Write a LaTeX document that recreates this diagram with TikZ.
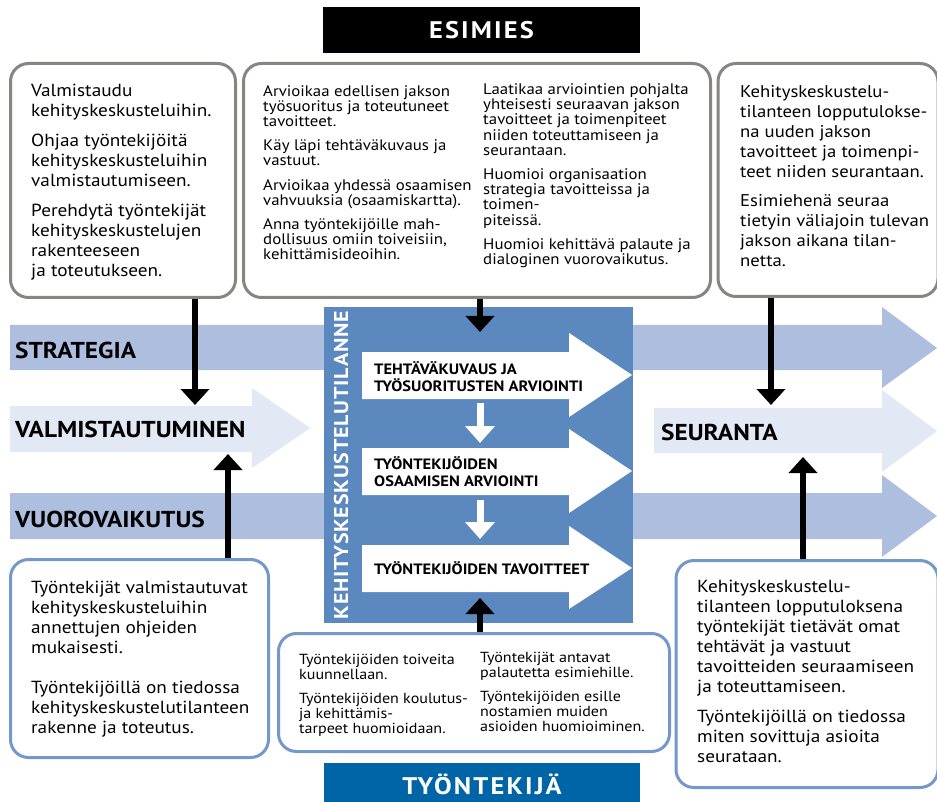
\documentclass[tikz,border=0pt]{standalone}
\usepackage{fontspec}
\setmainfont[FakeStretch=1.1]{PT Sans}
\newfontfamily\headfont[FakeStretch=1.1, LetterSpace=9]{PT Sans}
\newfontfamily\vertfont[FakeStretch=1.1, LetterSpace=4]{PT Sans}
\usetikzlibrary{arrows.meta}

\definecolor{boxgray}{HTML}{878580}
\definecolor{banddark}{HTML}{ADBEDF}
\definecolor{bandlight}{HTML}{E2E8F4}
\definecolor{centerblue}{HTML}{5B88BF}
\definecolor{boxblue}{HTML}{7498CB}
\definecolor{headblue}{HTML}{0065A7}

\tikzset{
  graybox/.style={draw=boxgray, line width=3pt, rounded corners=18pt, fill=white},
  bluebox/.style={draw=boxblue, line width=3pt, rounded corners=18pt, fill=white},
  boxtext/.style={anchor=north west, inner sep=0pt, align=left, font=\fontsize{17.5}{20}\selectfont},
  midtext/.style={anchor=north west, inner sep=0pt, align=left, font=\fontsize{15.3}{15.2}\selectfont},
  lowtext/.style={anchor=north west, inner sep=0pt, align=left, font=\fontsize{14.6}{15.3}\selectfont},
  bandlabel/.style={anchor=base west, inner sep=0pt, font=\bfseries\fontsize{23}{24}\selectfont},
  steplabel/.style={anchor=north west, inner sep=0pt, align=left, font=\bfseries\fontsize{15}{17}\selectfont},
  headbox/.style={text=white, inner sep=0pt, font=\headfont\bfseries\fontsize{24}{24}\selectfont},
  blkarrow/.style={line width=6pt, -{Triangle[width=28pt,length=16pt]}},
  whtarrow/.style={draw=white, line width=7pt, -{Triangle[width=29pt,length=17pt]}},
}

\begin{document}
\begin{tikzpicture}[x=1pt, y=-1pt]
    \useasboundingbox (0,0) rectangle (937,802);

    % Bands
    \fill[banddark] (10,325) -- (882,325) -- (882,307) -- (937,348) -- (882,388) -- (882,370) -- (10,370) -- cycle;
    \fill[banddark] (10,493) -- (882,493) -- (882,475) -- (937,516) -- (882,557) -- (882,539) -- (10,539) -- cycle;
    \fill[bandlight] (10,406) -- (252,406) -- (252,388) -- (310,428) -- (252,468) -- (252,452) -- (10,452) -- cycle;
    \fill[bandlight] (654,408) -- (882,408) -- (882,390) -- (937,431) -- (882,472) -- (882,453) -- (654,453) -- cycle;
    \node[bandlabel] (strategia) at (15,358) {STRATEGIA};
    \node[bandlabel] (valm) at (15,437) {VALMISTAUTUMINEN};
    \node[bandlabel] (vuoro) at (15,527) {VUOROVAIKUTUS};
    \node[bandlabel] (seuranta) at (661,440) {SEURANTA};

    % Central box
    \node[fill=centerblue, minimum width=309pt, minimum height=316pt, inner sep=0pt] (center) at (478.5,465) {};
    \node[rotate=90, text=white, inner sep=0pt, font=\vertfont\bfseries\fontsize{20}{20}\selectfont] (vtitle) at (341,465) {KEHITYSKESKUSTELUTILANNE};
    \fill[white] (362,352) -- (569,352) -- (569,333) -- (632,375) -- (569,417) -- (569,399) -- (362,399) -- cycle;
    \fill[white] (362,448) -- (569,448) -- (569,429) -- (632,471) -- (569,513) -- (569,495) -- (362,495) -- cycle;
    \fill[white] (362,545) -- (569,545) -- (569,526) -- (632,568) -- (569,609) -- (569,592) -- (362,592) -- cycle;
    \node[steplabel] (step1) at (374,361) {TEHTÄVÄKUVAUS JA\\TYÖSUORITUSTEN ARVIOINTI};
    \node[steplabel] (step2) at (374,456) {TYÖNTEKIJÖIDEN\\OSAAMISEN ARVIOINTI};
    \node[steplabel] (step3) at (374,561) {TYÖNTEKIJÖIDEN TAVOITTEET};
    \coordinate (s1b) at (480,403);
    \coordinate (s2t) at (480,443);
    \coordinate (s2b) at (480,500);
    \coordinate (s3t) at (480,539);
    \draw[whtarrow] (s1b) -- (s2t);
    \draw[whtarrow] (s2b) -- (s3t);

    % Headings
    \node[fill=black, minimum width=317pt, minimum height=46pt, headbox] (esimies) at (481.5,30) {ESIMIES};
    \node[fill=headblue, minimum width=316pt, minimum height=42pt, headbox] (tyontekija) at (482,784) {TYÖNTEKIJÄ};

    % Top boxes
    \node[graybox, minimum width=225pt, minimum height=234pt] (lbox) at (123,180.5) {};
    \node[graybox, minimum width=467pt, minimum height=234pt] (mbox) at (477,180.5) {};
    \node[graybox, minimum width=220pt, minimum height=233pt] (rbox) at (828,180) {};
    \node[boxtext] (ltext) at (31,84) {Valmistaudu\\kehityskeskusteluihin.\\[10pt]Ohjaa työntekijöitä\\kehityskeskusteluihin\\valmistautumiseen.\\[10pt]Perehdytä työntekijät\\kehityskeskustelujen\\rakenteeseen\\ja toteutukseen.};
    \node[midtext] (mtextl) at (263,85) {Arvioikaa edellisen jakson\\työsuoritus ja toteutuneet\\tavoitteet.\\[9pt]Käy läpi tehtäväkuvaus ja\\vastuut.\\[9pt]Arvioikaa yhdessä osaamisen\\vahvuuksia (osaamiskartta).\\[9pt]Anna työntekijöille mah-\\dollisuus omiin toiveisiin,\\kehittämisideoihin.};
    \node[midtext] (mtextr) at (483,83.5) {Laatikaa arviointien pohjalta\\yhteisesti seuraavan jakson\\tavoitteet ja toimenpiteet\\niiden toteuttamiseen ja\\seurantaan.\\[9pt]Huomioi organisaation\\strategia tavoitteissa ja\\toimen-\\piteissä.\\[9pt]Huomioi kehittävä palaute ja\\dialoginen vuorovaikutus.};
    \node[boxtext, font=\fontsize{17}{20}\selectfont] (rtext) at (740,85.5) {Kehityskeskustelu-\\tilanteen lopputulokse-\\na uuden jakson\\tavoitteet ja toimenpi-\\teet niiden seurantaan.\\[9pt]Esimiehenä seuraa\\tietyin väliajoin tulevan\\jakson aikana tilan-\\netta.};

    % Bottom boxes
    \node[bluebox, minimum width=258pt, minimum height=198pt] (lbbox) at (139.5,658.5) {};
    \node[bluebox, minimum width=391pt, minimum height=118pt] (mbbox) at (474,692.5) {};
    \node[bluebox, minimum width=262pt, minimum height=227pt] (rbbox) at (807,674) {};
    \node[boxtext] (lbtext) at (31,580.5) {Työntekijät valmistautuvat\\kehityskeskusteluihin\\annettujen ohjeiden\\mukaisesti.\\[20pt]Työntekijöillä on tiedossa\\kehityskeskustelutilanteen\\rakenne ja toteutus.};
    \node[lowtext] (mbtextl) at (299,654) {Työntekijöiden toiveita\\kuunnellaan.\\[8pt]Työntekijöiden koulutus-\\ja kehittämis-\\tarpeet huomioidaan.};
    \node[lowtext] (mbtextr) at (480,652) {Työntekijät antavat\\palautetta esimiehille.\\[8pt]Työntekijöiden esille\\nostamien muiden\\asioiden huomioiminen.};
    \node[boxtext] (rbtext) at (697,579.5) {Kehityskeskustelu-\\tilanteen lopputuloksena\\työntekijät tietävät omat\\tehtävät ja vastuut\\tavoitteiden seuraamiseen\\ja toteuttamiseen.\\[10pt]Työntekijöillä on tiedossa\\miten sovittuja asioita\\seurataan.};

    % Black connectors
    \coordinate (tipvalmtop) at (195,405);
    \coordinate (tipvalmbot) at (228,454);
    \coordinate (tipcentertop) at (480,332);
    \coordinate (tipcenterbot) at (480,598);
    \coordinate (tipseurtop) at (771,405);
    \coordinate (tipseurbot) at (803,457);
    \draw[blkarrow] (tipvalmtop |- lbox.south) -- (tipvalmtop);
    \draw[blkarrow] (tipvalmbot |- lbbox.north) -- (tipvalmbot);
    \draw[blkarrow] (tipcentertop |- mbox.south) -- (tipcentertop);
    \draw[blkarrow] (tipcenterbot |- mbbox.north) -- (tipcenterbot);
    \draw[blkarrow] (tipseurtop |- rbox.south) -- (tipseurtop);
    \draw[blkarrow] (tipseurbot |- rbbox.north) -- (tipseurbot);
\end{tikzpicture}
\end{document}
